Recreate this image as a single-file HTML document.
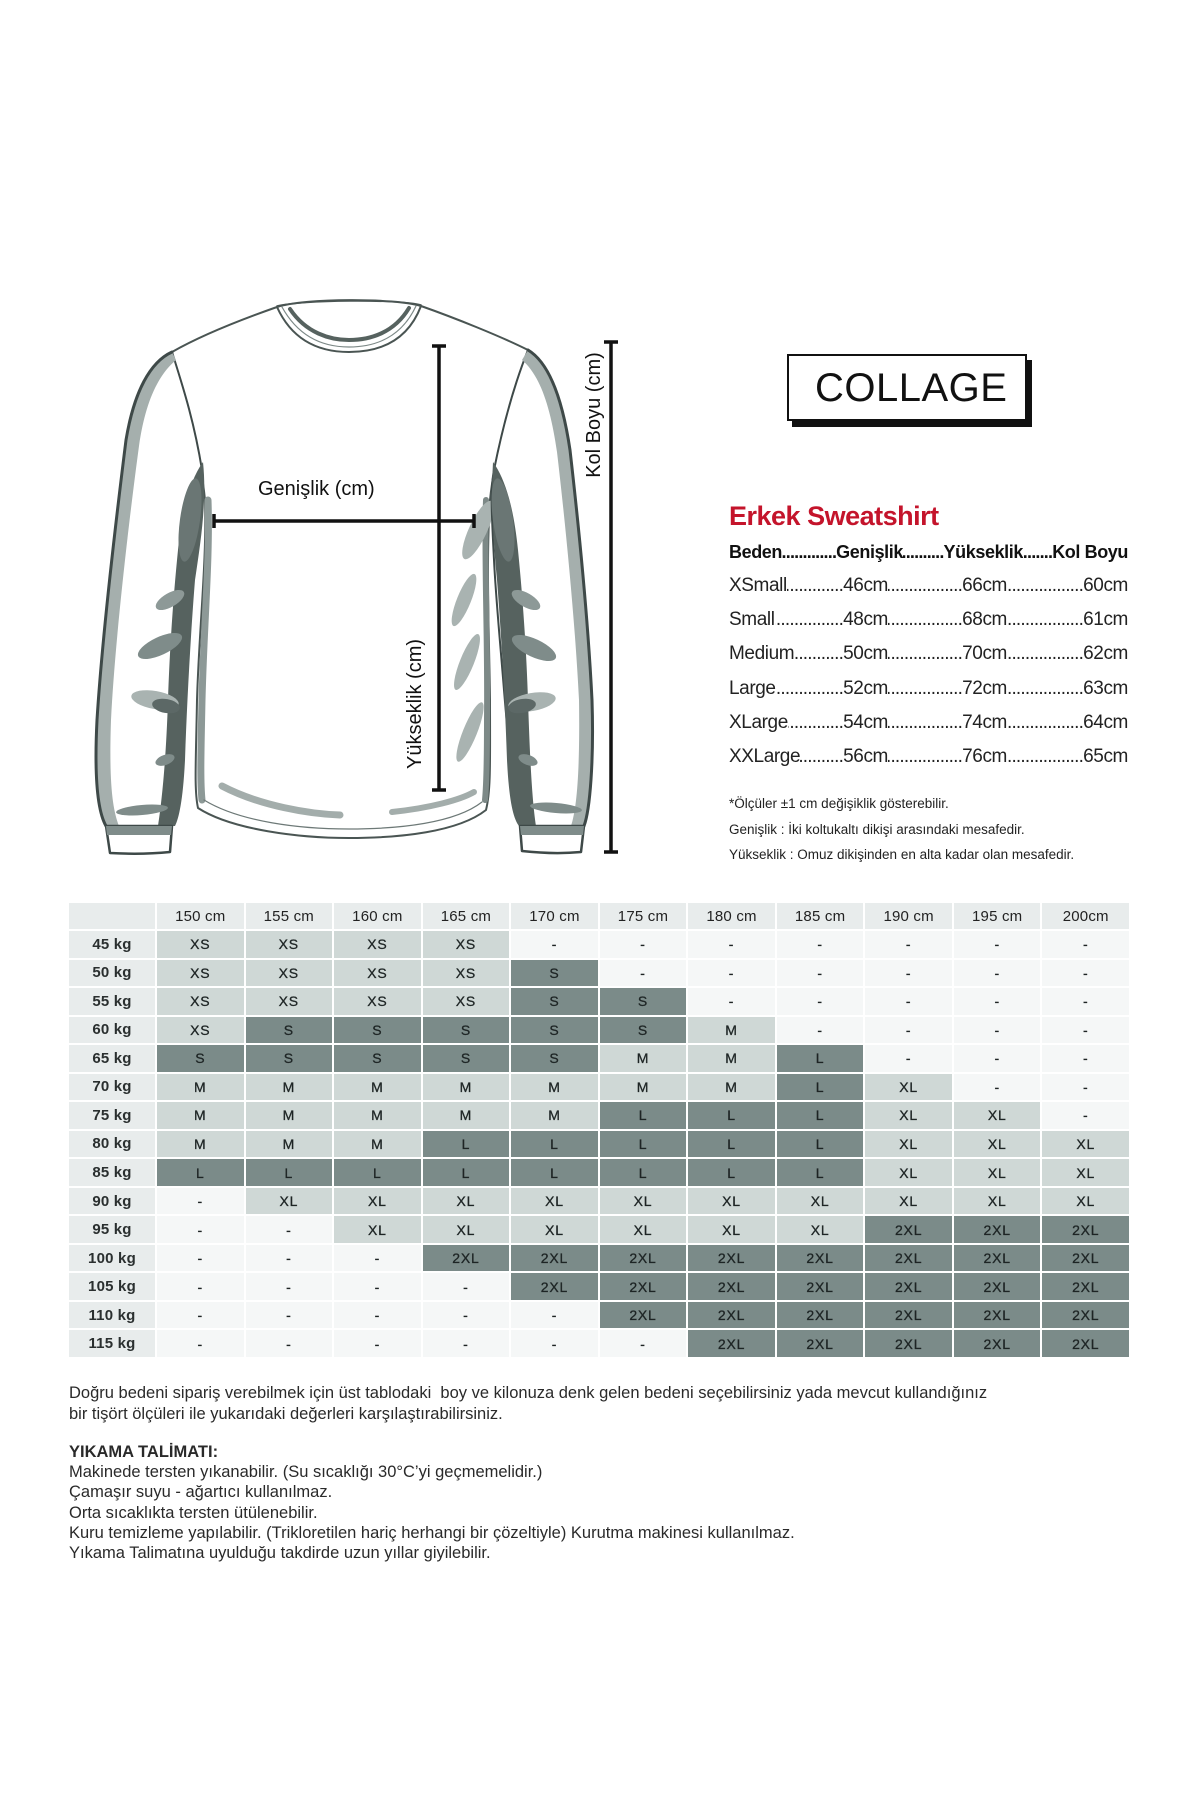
<!DOCTYPE html>
<html><head><meta charset="utf-8">
<style>
html,body{margin:0;padding:0;width:1200px;height:1800px;background:#fff;overflow:hidden}
body{position:relative;font-family:"Liberation Sans",Arial,sans-serif;color:#222}
.t{position:absolute;left:69px;top:903px;width:1060px;height:454px;display:grid;grid-template-columns:86px repeat(11,1fr);grid-template-rows:26px repeat(15,1fr);gap:2px;background:#fff}
.t div{display:flex;align-items:center;justify-content:center;font-size:14px;color:#1e2525;letter-spacing:0.8px;-webkit-text-stroke:0.3px #1e2525}
.t .h{background:#e8ecec;font-size:15px;letter-spacing:0.2px;-webkit-text-stroke:0;color:#222}
.t .k{background:#e8ecec;font-size:15px;font-weight:bold;letter-spacing:0.2px;-webkit-text-stroke:0;color:#2a2f2f}
.t .e{background:#f5f7f7}
.t .l{background:#cfd8d6}
.t .d{background:#7b8b89}
.sr{position:absolute;left:729px;width:399px;height:24px;line-height:24px;font-size:19px;color:#222;display:flex;white-space:nowrap;letter-spacing:-0.4px}
.sr.hd{font-weight:bold;font-size:18px;color:#111}
.s1{width:159px;display:flex;overflow:hidden}
.s2{width:119px;display:flex;overflow:hidden}
.s3{width:121px;display:flex;overflow:hidden}
.hd .s1{width:174px}.hd .s2{width:120px}.hd .s3{width:105px}
.dt{flex:1;overflow:hidden;direction:rtl;letter-spacing:-0.8px;min-width:0}
.nt{position:absolute;left:729px;font-size:13.5px;line-height:18px;color:#222;letter-spacing:0;white-space:nowrap}
.p{position:absolute;left:69px;font-size:16.5px;color:#2a2a2a;letter-spacing:0;white-space:nowrap}
</style></head><body>

<svg style="position:absolute;left:0;top:0" width="700" height="900" viewBox="0 0 700 900">
<g stroke-linejoin="round" stroke-linecap="round">
<!-- body -->
<path d="M172,352 C186,400 200,450 205,500 C207,560 199,630 197,700 C196,760 194,790 198,808 C232,830 300,838 349,838 C400,838 458,832 486,810 C491,790 490,760 490,700 C489,630 486,560 490,500 C495,450 512,400 528,350 C500,336 455,318 421,306 C395,298 305,298 277,307 C240,320 200,336 172,352 Z" fill="#fff" stroke="#4a5553" stroke-width="2"/>
<!-- body side shading -->
<path d="M208,500 C210,560 204,620 202,700 C201,750 200,780 202,800" fill="none" stroke="#8d9997" stroke-width="7"/>
<path d="M486,500 C484,560 488,640 487,720 C487,760 486,790 485,800" fill="none" stroke="#7d8987" stroke-width="6"/>
<ellipse cx="478" cy="530" rx="9" ry="32" transform="rotate(25 478 530)" fill="#a9b3b1"/>
<ellipse cx="464" cy="600" rx="7" ry="28" transform="rotate(22 464 600)" fill="#a9b3b1"/>
<ellipse cx="467" cy="662" rx="7" ry="30" transform="rotate(22 467 662)" fill="#a9b3b1"/>
<ellipse cx="470" cy="732" rx="7" ry="32" transform="rotate(22 470 732)" fill="#a9b3b1"/>
<!-- hem -->
<path d="M222,786 C260,806 310,814 340,815" fill="none" stroke="#a3adab" stroke-width="7"/>
<path d="M392,812 C430,808 460,800 474,792" fill="none" stroke="#a3adab" stroke-width="6"/>
<path d="M204,800 C240,822 300,829 349,829 C400,829 455,823 482,802" fill="none" stroke="#6d7977" stroke-width="1.2"/>
<!-- collar -->
<path d="M277,306 C300,300 400,299 421,305" fill="none" stroke="#4a5553" stroke-width="1.5"/>
<path d="M277,307 C292,340 318,352 349,352 C381,352 408,340 421,306" fill="none" stroke="#4a5553" stroke-width="2"/>
<path d="M282,307 C298,336 322,347 349,347 C377,347 402,336 416,306" fill="none" stroke="#7d8987" stroke-width="1.2"/>
<path d="M290,309 C306,333 330,340 349,340 C370,340 394,333 409,308" fill="none" stroke="#56625f" stroke-width="4"/>
<!-- left sleeve -->
<path d="M172,352 C150,362 134,392 126,440 C116,520 102,640 97,720 C94,780 98,812 106,826 L172,826 C176,790 178,740 180,690 C182,640 186,600 192,560 C198,520 204,490 202,470 C194,420 182,384 172,352 Z" fill="#fff" stroke="#3e4948" stroke-width="2"/>
<path d="M172,352 C150,362 134,392 126,440 C116,520 102,640 97,720 C94,780 98,812 106,826 L119,826 C112,808 109,780 111,720 C115,640 129,520 139,446 C145,404 157,376 176,360 Z" fill="#a5afad"/>
<path d="M172,352 C150,362 134,392 126,440 C116,520 102,640 97,720 C94,780 98,812 106,826" fill="none" stroke="#3e4948" stroke-width="3"/>
<path d="M203,462 C207,500 201,540 195,580 C191,630 187,700 185,760 C183,800 179,818 175,826 L158,826 C162,800 166,760 168,700 C170,640 174,590 178,550 C182,510 190,480 203,462 Z" fill="#56625f"/>
<ellipse cx="190" cy="520" rx="10" ry="42" transform="rotate(8 190 520)" fill="#6a7674"/>
<ellipse cx="170" cy="600" rx="16" ry="7" transform="rotate(-30 170 600)" fill="#8d9997"/>
<ellipse cx="160" cy="646" rx="24" ry="9" transform="rotate(-25 160 646)" fill="#7f8c8a"/>
<ellipse cx="155" cy="700" rx="24" ry="9" transform="rotate(10 155 700)" fill="#a9b3b1"/>
<ellipse cx="166" cy="706" rx="14" ry="7" transform="rotate(10 166 706)" fill="#5c6866"/>
<ellipse cx="165" cy="760" rx="10" ry="5" transform="rotate(-20 165 760)" fill="#7f8c8a"/>
<ellipse cx="142" cy="810" rx="26" ry="5" transform="rotate(-5 142 810)" fill="#7f8c8a"/>
<!-- left cuff -->
<path d="M106,826 L172,826 L170,852 C150,854 128,854 110,853 Z" fill="#fff" stroke="#3e4948" stroke-width="2.5"/>
<path d="M106,826 L172,826 L171,835 L107,835 Z" fill="#7f8c8a"/>
<!-- right sleeve -->
<path d="M528,350 C548,362 562,396 570,450 C578,520 588,620 592,700 C594,760 590,810 584,826 L520,826 C514,790 508,740 504,690 C500,640 496,600 494,560 C492,520 490,490 494,470 C504,420 516,380 528,350 Z" fill="#fff" stroke="#3e4948" stroke-width="2"/>
<path d="M528,350 C548,362 562,396 570,450 C578,520 588,620 592,700 C594,760 590,810 584,826 L571,826 C577,808 580,770 579,700 C575,620 565,520 557,452 C551,410 541,376 522,360 Z" fill="#a5afad"/>
<path d="M528,350 C548,362 562,396 570,450 C578,520 588,620 592,700 C594,760 590,810 584,826" fill="none" stroke="#3e4948" stroke-width="3"/>
<path d="M493,462 C491,500 493,540 497,580 C501,630 505,700 507,760 C509,800 513,818 519,826 L536,826 C532,800 530,760 528,700 C526,640 522,590 518,550 C514,510 506,480 493,462 Z" fill="#56625f"/>
<ellipse cx="503" cy="520" rx="10" ry="42" transform="rotate(-8 503 520)" fill="#6a7674"/>
<ellipse cx="526" cy="600" rx="16" ry="7" transform="rotate(30 526 600)" fill="#8d9997"/>
<ellipse cx="534" cy="648" rx="24" ry="9" transform="rotate(25 534 648)" fill="#7f8c8a"/>
<ellipse cx="532" cy="702" rx="24" ry="9" transform="rotate(-10 532 702)" fill="#a9b3b1"/>
<ellipse cx="522" cy="706" rx="14" ry="7" transform="rotate(-10 522 706)" fill="#5c6866"/>
<ellipse cx="528" cy="760" rx="10" ry="5" transform="rotate(20 528 760)" fill="#7f8c8a"/>
<ellipse cx="556" cy="808" rx="26" ry="5" transform="rotate(5 556 808)" fill="#7f8c8a"/>
<!-- right cuff -->
<path d="M520,826 L584,826 L581,852 C560,854 540,853 522,851 Z" fill="#fff" stroke="#3e4948" stroke-width="2.5"/>
<path d="M520,826 L584,826 L583,835 L521,835 Z" fill="#7f8c8a"/>
</g>
<!-- measurement bars -->
<g stroke="#111" stroke-width="3.5" fill="none">
<line x1="611" y1="342" x2="611" y2="852"/>
<line x1="604" y1="342" x2="618" y2="342"/>
<line x1="604" y1="852" x2="618" y2="852"/>
<line x1="439" y1="346" x2="439" y2="790"/>
<line x1="432" y1="346" x2="446" y2="346"/>
<line x1="432" y1="790" x2="446" y2="790"/>
<line x1="214" y1="521" x2="474" y2="521"/>
<line x1="214" y1="514" x2="214" y2="528"/>
<line x1="474" y1="514" x2="474" y2="528"/>
</g>
<g font-family="Liberation Sans, Arial, sans-serif" font-size="20" fill="#111">
<text x="258" y="495">Genişlik (cm)</text>
<text transform="translate(600,415) rotate(-90)" text-anchor="middle">Kol Boyu (cm)</text>
<text transform="translate(421,704) rotate(-90)" text-anchor="middle">Yükseklik (cm)</text>
</g>
</svg>

<!-- logo -->
<div style="position:absolute;left:787px;top:354px;width:240px;height:67px;box-sizing:border-box;border:2px solid #111;background:#fff;box-shadow:5px 6px 0 #111"></div>
<div style="position:absolute;left:815px;top:368px;font-size:40px;line-height:40px;letter-spacing:0.5px;color:#111;white-space:nowrap">COLLAGE</div>

<!-- size info -->
<div style="position:absolute;left:729px;top:503px;font-weight:bold;font-size:27px;line-height:27px;color:#c4142b;letter-spacing:-0.5px;white-space:nowrap">Erkek Sweatshirt</div>

<div class="sr hd" style="top:540px"><div class="s1"><span>Beden</span><span class="dt">..............................</span><span>Genişlik</span></div><div class="s2"><span class="dt">..............................</span><span>Yükseklik</span></div><div class="s3"><span class="dt">..............................</span><span>Kol Boyu</span></div></div>

<div class="sr" style="top:574px"><div class="s1"><span>XSmall</span><span class="dt">..............................</span><span>46cm</span></div><div class="s2"><span class="dt">..............................</span><span>66cm</span></div><div class="s3"><span class="dt">..............................</span><span>60cm</span></div></div>
<div class="sr" style="top:608px"><div class="s1"><span>Small</span><span class="dt">..............................</span><span>48cm</span></div><div class="s2"><span class="dt">..............................</span><span>68cm</span></div><div class="s3"><span class="dt">..............................</span><span>61cm</span></div></div>
<div class="sr" style="top:642px"><div class="s1"><span>Medium</span><span class="dt">..............................</span><span>50cm</span></div><div class="s2"><span class="dt">..............................</span><span>70cm</span></div><div class="s3"><span class="dt">..............................</span><span>62cm</span></div></div>
<div class="sr" style="top:677px"><div class="s1"><span>Large</span><span class="dt">..............................</span><span>52cm</span></div><div class="s2"><span class="dt">..............................</span><span>72cm</span></div><div class="s3"><span class="dt">..............................</span><span>63cm</span></div></div>
<div class="sr" style="top:711px"><div class="s1"><span>XLarge</span><span class="dt">..............................</span><span>54cm</span></div><div class="s2"><span class="dt">..............................</span><span>74cm</span></div><div class="s3"><span class="dt">..............................</span><span>64cm</span></div></div>
<div class="sr" style="top:745px"><div class="s1"><span>XXLarge</span><span class="dt">..............................</span><span>56cm</span></div><div class="s2"><span class="dt">..............................</span><span>76cm</span></div><div class="s3"><span class="dt">..............................</span><span>65cm</span></div></div>

<div class="nt" style="top:795px">*Ölçüler ±1 cm değişiklik gösterebilir.</div>
<div class="nt" style="top:821px">Genişlik : İki koltukaltı dikişi arasındaki mesafedir.</div>
<div class="nt" style="top:846px">Yükseklik : Omuz dikişinden en alta kadar olan mesafedir.</div>

<!-- table -->
<div class="t">
<div class="h"></div><div class="h">150 cm</div><div class="h">155 cm</div><div class="h">160 cm</div><div class="h">165 cm</div><div class="h">170 cm</div><div class="h">175 cm</div><div class="h">180 cm</div><div class="h">185 cm</div><div class="h">190 cm</div><div class="h">195 cm</div><div class="h">200cm</div>

<div class="k">45 kg</div><div class="l">XS</div><div class="l">XS</div><div class="l">XS</div><div class="l">XS</div><div class="e">-</div><div class="e">-</div><div class="e">-</div><div class="e">-</div><div class="e">-</div><div class="e">-</div><div class="e">-</div>

<div class="k">50 kg</div><div class="l">XS</div><div class="l">XS</div><div class="l">XS</div><div class="l">XS</div><div class="d">S</div><div class="e">-</div><div class="e">-</div><div class="e">-</div><div class="e">-</div><div class="e">-</div><div class="e">-</div>

<div class="k">55 kg</div><div class="l">XS</div><div class="l">XS</div><div class="l">XS</div><div class="l">XS</div><div class="d">S</div><div class="d">S</div><div class="e">-</div><div class="e">-</div><div class="e">-</div><div class="e">-</div><div class="e">-</div>

<div class="k">60 kg</div><div class="l">XS</div><div class="d">S</div><div class="d">S</div><div class="d">S</div><div class="d">S</div><div class="d">S</div><div class="l">M</div><div class="e">-</div><div class="e">-</div><div class="e">-</div><div class="e">-</div>

<div class="k">65 kg</div><div class="d">S</div><div class="d">S</div><div class="d">S</div><div class="d">S</div><div class="d">S</div><div class="l">M</div><div class="l">M</div><div class="d">L</div><div class="e">-</div><div class="e">-</div><div class="e">-</div>

<div class="k">70 kg</div><div class="l">M</div><div class="l">M</div><div class="l">M</div><div class="l">M</div><div class="l">M</div><div class="l">M</div><div class="l">M</div><div class="d">L</div><div class="l">XL</div><div class="e">-</div><div class="e">-</div>

<div class="k">75 kg</div><div class="l">M</div><div class="l">M</div><div class="l">M</div><div class="l">M</div><div class="l">M</div><div class="d">L</div><div class="d">L</div><div class="d">L</div><div class="l">XL</div><div class="l">XL</div><div class="e">-</div>

<div class="k">80 kg</div><div class="l">M</div><div class="l">M</div><div class="l">M</div><div class="d">L</div><div class="d">L</div><div class="d">L</div><div class="d">L</div><div class="d">L</div><div class="l">XL</div><div class="l">XL</div><div class="l">XL</div>

<div class="k">85 kg</div><div class="d">L</div><div class="d">L</div><div class="d">L</div><div class="d">L</div><div class="d">L</div><div class="d">L</div><div class="d">L</div><div class="d">L</div><div class="l">XL</div><div class="l">XL</div><div class="l">XL</div>

<div class="k">90 kg</div><div class="e">-</div><div class="l">XL</div><div class="l">XL</div><div class="l">XL</div><div class="l">XL</div><div class="l">XL</div><div class="l">XL</div><div class="l">XL</div><div class="l">XL</div><div class="l">XL</div><div class="l">XL</div>

<div class="k">95 kg</div><div class="e">-</div><div class="e">-</div><div class="l">XL</div><div class="l">XL</div><div class="l">XL</div><div class="l">XL</div><div class="l">XL</div><div class="l">XL</div><div class="d">2XL</div><div class="d">2XL</div><div class="d">2XL</div>

<div class="k">100 kg</div><div class="e">-</div><div class="e">-</div><div class="e">-</div><div class="d">2XL</div><div class="d">2XL</div><div class="d">2XL</div><div class="d">2XL</div><div class="d">2XL</div><div class="d">2XL</div><div class="d">2XL</div><div class="d">2XL</div>

<div class="k">105 kg</div><div class="e">-</div><div class="e">-</div><div class="e">-</div><div class="e">-</div><div class="d">2XL</div><div class="d">2XL</div><div class="d">2XL</div><div class="d">2XL</div><div class="d">2XL</div><div class="d">2XL</div><div class="d">2XL</div>

<div class="k">110 kg</div><div class="e">-</div><div class="e">-</div><div class="e">-</div><div class="e">-</div><div class="e">-</div><div class="d">2XL</div><div class="d">2XL</div><div class="d">2XL</div><div class="d">2XL</div><div class="d">2XL</div><div class="d">2XL</div>

<div class="k">115 kg</div><div class="e">-</div><div class="e">-</div><div class="e">-</div><div class="e">-</div><div class="e">-</div><div class="e">-</div><div class="d">2XL</div><div class="d">2XL</div><div class="d">2XL</div><div class="d">2XL</div><div class="d">2XL</div>
</div>

<!-- bottom text -->
<div class="p" style="top:1383px;line-height:20.5px">Doğru bedeni sipariş verebilmek için üst tablodaki&nbsp; boy ve kilonuza denk gelen bedeni seçebilirsiniz yada mevcut kullandığınız<br>bir tişört ölçüleri ile yukarıdaki değerleri karşılaştırabilirsiniz.</div>
<div class="p" style="top:1442px;line-height:20.2px"><b>YIKAMA TALİMATI:</b><br>Makinede tersten yıkanabilir. (Su sıcaklığı 30°C’yi geçmemelidir.)<br>Çamaşır suyu - ağartıcı kullanılmaz.<br>Orta sıcaklıkta tersten ütülenebilir.<br>Kuru temizleme yapılabilir. (Trikloretilen hariç herhangi bir çözeltiyle) Kurutma makinesi kullanılmaz.<br>Yıkama Talimatına uyulduğu takdirde uzun yıllar giyilebilir.</div>

</body></html>
